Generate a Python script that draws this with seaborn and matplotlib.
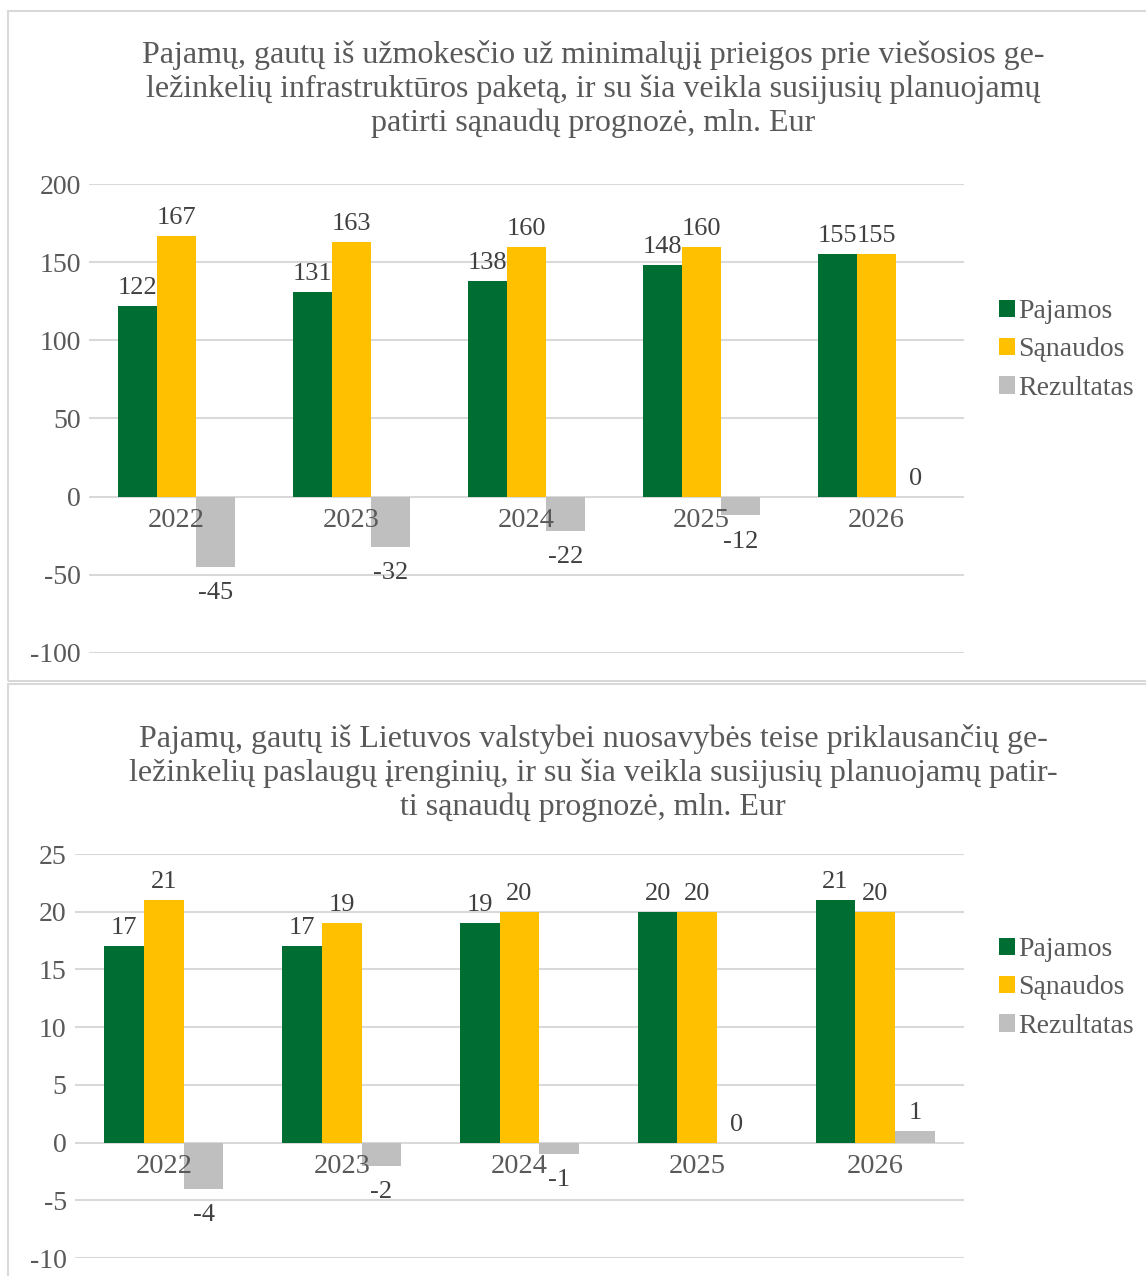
import pandas as pd
import numpy as np
import matplotlib
matplotlib.use("Agg")
import matplotlib.pyplot as plt
from matplotlib.patches import Rectangle
import seaborn as sns

# data
years = ["2022", "2023", "2024", "2025", "2026"]
series = ["Pajamos", "Sąnaudos", "Rezultatas"]

infra_pajamos = [122, 131, 138, 148, 155]
infra_sanaudos = [167, 163, 160, 160, 155]
infra_rezultatas = [-45, -32, -22, -12, 0]

irenginiai_pajamos = [17, 17, 19, 20, 21]
irenginiai_sanaudos = [21, 19, 20, 20, 20]
irenginiai_rezultatas = [-4, -2, -1, 0, 1]

title_top = ("Pajamų, gautų iš užmokesčio už minimalųjį prieigos prie viešosios ge-\n"
             "ležinkelių infrastruktūros paketą, ir su šia veikla susijusių planuojamų\n"
             "patirti sąnaudų prognozė, mln. Eur")
title_bottom = ("Pajamų, gautų iš Lietuvos valstybei nuosavybės teise priklausančių ge-\n"
                "ležinkelių paslaugų įrenginių, ir su šia veikla susijusių planuojamų patir-\n"
                "ti sąnaudų prognozė, mln. Eur")

colors = {"Pajamos": "#006E33", "Sąnaudos": "#FFC000", "Rezultatas": "#BFBFBF"}

sns.set_style("white")
plt.rcParams["font.family"] = ["Liberation Serif", "DejaVu Serif"]
plt.rcParams["axes.unicode_minus"] = False

W, H = 1146, 1276
fig = plt.figure(figsize=(W / 100, H / 100), dpi=100)

# panel frames
for (y0, y1) in [(11, 681), (684, 1290)]:
    fig.patches.append(Rectangle((8 / W, 1 - y1 / H), 1.2, (y1 - y0) / H,
                                 transform=fig.transFigure, fill=False,
                                 edgecolor="#D9D9D9", lw=1.5))


def make_df(paj, san, rez):
    rows = []
    for s, vals in zip(series, [paj, san, rez]):
        for y, v in zip(years, vals):
            rows.append({"Metai": y, "Serija": s, "Reikšmė": v})
    return pd.DataFrame(rows)


def draw(rect, df, ylim, yticks, title, title_y, legend_y):
    ax = fig.add_axes(rect)
    sns.barplot(data=df, x="Metai", y="Reikšmė", hue="Serija", palette=colors,
                width=0.67, saturation=1, errorbar=None, linewidth=0, ax=ax)
    ax.set_xlim(-0.5, 4.5)
    ax.set_ylim(*ylim)
    ax.set_yticks(yticks)
    ax.set_yticklabels([str(t) for t in yticks])
    ax.grid(axis="y", color="#D9D9D9", lw=1.5)
    ax.set_axisbelow(True)
    ax.xaxis.set_zorder(5)  # year labels sit on top of the negative bars
    for sp in ax.spines.values():
        sp.set_visible(False)
    ax.spines["bottom"].set_position(("data", 0))
    ax.tick_params(axis="both", length=0, colors="#595959")
    ax.tick_params(axis="y", pad=6, labelsize=20)
    ax.tick_params(axis="x", pad=8, labelsize=20.5)
    ax.set_xlabel("")
    ax.set_ylabel("")
    for cont in ax.containers:
        for b in cont:
            v = b.get_height()
            ax.annotate(f"{v:g}", (b.get_x() + b.get_width() / 2, v),
                        xytext=(0, 5 if v >= 0 else -11), textcoords="offset points",
                        ha="center", va="bottom" if v >= 0 else "top",
                        fontsize=19, color="#404040")
    ax.legend(loc="center left", bbox_to_anchor=(985 / W, legend_y),
              bbox_transform=fig.transFigure, frameon=False, fontsize=20,
              handlelength=0.58, handleheight=0.58, handletextpad=0.12,
              labelspacing=0.48, borderpad=0, labelcolor="#595959")
    fig.text(593 / W, title_y, title, ha="center", va="center", fontsize=23,
             color="#595959", linespacing=1.18)
    return ax


df_top = make_df(infra_pajamos, infra_sanaudos, infra_rezultatas)
df_bot = make_df(irenginiai_pajamos, irenginiai_sanaudos, irenginiai_rezultatas)

draw([89 / W, 1 - 653 / H, 875 / W, (653 - 184) / H], df_top, (-100, 200),
     [-100, -50, 0, 50, 100, 150, 200], title_top, 1 - 89 / H, 1 - 350 / H)
draw([75 / W, 1 - 1258 / H, 889 / W, (1258 - 854) / H], df_bot, (-10, 25),
     [-10, -5, 0, 5, 10, 15, 20, 25], title_bottom, 1 - 773 / H, 1 - 988 / H)

fig.savefig("out.png", dpi=100)
